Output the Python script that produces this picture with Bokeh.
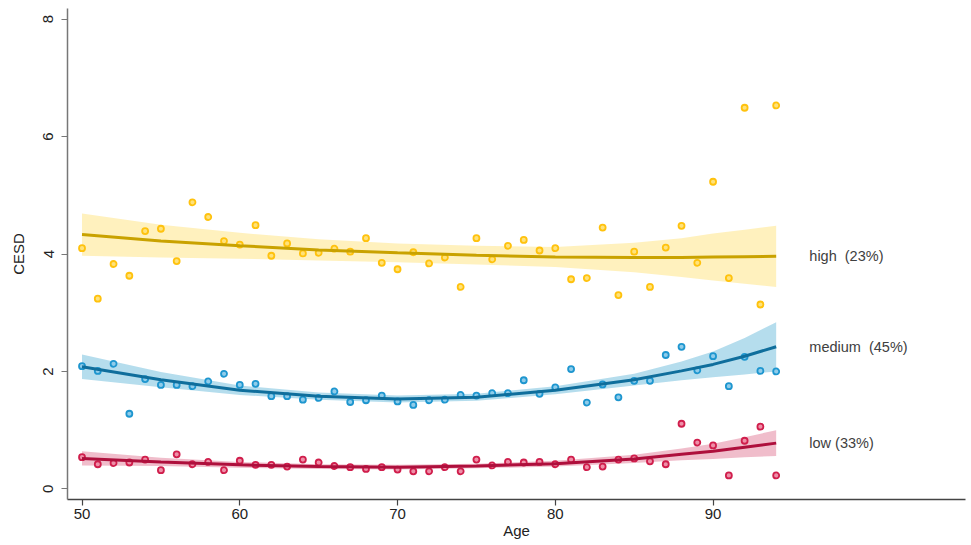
from bokeh.plotting import figure
from bokeh.models import Range1d, FixedTicker, Label
from bokeh.embed import file_html
from bokeh.resources import INLINE

ages = list(range(50, 95))

high = [4.10, 3.24, 3.83, 3.63, 4.39, 4.43, 3.88, 4.88, 4.63, 4.22,
        4.16, 4.49, 3.97, 4.18, 4.01, 4.02, 4.09, 4.04, 4.27, 3.85,
        3.74, 4.03, 3.84, 3.94, 3.44, 4.27, 3.91, 4.14, 4.24, 4.06,
        4.10, 3.57, 3.59, 4.45, 3.30, 4.04, 3.44, 4.11, 4.48, 3.85,
        5.23, 3.59, 6.49, 3.14, 6.53]
medium = [2.09, 2.01, 2.13, 1.28, 1.87, 1.77, 1.77, 1.75, 1.83, 1.96,
          1.77, 1.79, 1.58, 1.58, 1.52, 1.55, 1.66, 1.48, 1.51, 1.59,
          1.49, 1.43, 1.51, 1.52, 1.60, 1.59, 1.63, 1.63, 1.85, 1.62,
          1.73, 2.04, 1.47, 1.78, 1.56, 1.84, 1.84, 2.28, 2.42, 2.02,
          2.26, 1.75, 2.25, 2.01, 2.00]
low = [0.54, 0.42, 0.44, 0.45, 0.50, 0.32, 0.59, 0.42, 0.46, 0.32,
       0.48, 0.41, 0.41, 0.38, 0.50, 0.45, 0.39, 0.37, 0.34, 0.37,
       0.33, 0.30, 0.30, 0.37, 0.30, 0.50, 0.40, 0.46, 0.45, 0.46,
       0.42, 0.50, 0.37, 0.38, 0.50, 0.52, 0.47, 0.42, 1.11, 0.79,
       0.74, 0.23, 0.82, 1.06, 0.23]

fit_ages = [50, 55, 60, 65, 70, 75, 80, 85, 88, 90, 92, 94]
high_fit = [4.33, 4.22, 4.14, 4.07, 4.02, 3.98, 3.95, 3.94, 3.94, 3.95, 3.955, 3.96]
high_hw = [0.36, 0.28, 0.22, 0.18, 0.16, 0.16, 0.17, 0.25, 0.33, 0.40, 0.46, 0.52]
medium_fit = [2.08, 1.86, 1.68, 1.58, 1.53, 1.56, 1.68, 1.86, 2.01, 2.12, 2.26, 2.42]
medium_hw = [0.21, 0.13, 0.08, 0.06, 0.06, 0.06, 0.07, 0.10, 0.16, 0.22, 0.31, 0.42]
low_fit = [0.52, 0.46, 0.41, 0.38, 0.37, 0.39, 0.43, 0.51, 0.59, 0.64, 0.71, 0.78]
low_hw = [0.12, 0.07, 0.05, 0.04, 0.04, 0.04, 0.05, 0.07, 0.10, 0.13, 0.17, 0.22]

group_labels = ["high\u00a0 (23%)", "medium\u00a0 (45%)", "low (33%)"]
x_ticks = [50, 60, 70, 80, 90]
y_ticks = [0, 2, 4, 6, 8]

p = figure(width=971, height=545, output_backend="svg", toolbar_location=None,
           x_range=Range1d(49.08, 106), y_range=Range1d(-0.18, 8.18),
           min_border_left=67, min_border_right=6, min_border_top=8,
           min_border_bottom=46)
p.outline_line_color = None
p.grid.visible = False
p.background_fill_color = "white"
p.border_fill_color = "white"

series = [
    (high, high_fit, high_hw, "#FFC20E", "#FFE27A", "#C9A200", "#FFEFB3", group_labels[0]),
    (medium, medium_fit, medium_hw, "#1E96CF", "#8FCCEA", "#0F6E9C", "#A8D7EA", group_labels[1]),
    (low, low_fit, low_hw, "#D01E4C", "#EE8FA8", "#AE0F3C", "#EDB1C2", group_labels[2]),
]

for pts, fit, hw, pc, pf, lc, bc, lab in series:
    lower = [f - h for f, h in zip(fit, hw)]
    upper = [f + h for f, h in zip(fit, hw)]
    p.varea(x=fit_ages, y1=lower, y2=upper, fill_color=bc, fill_alpha=0.85)
    p.scatter(x=ages, y=pts, marker="circle", size=6, fill_color=pf,
              fill_alpha=1.0, line_color=pc, line_width=1.8)
    p.line(x=fit_ages, y=fit, line_color=lc, line_width=3)
    p.add_layout(Label(x=96.1, y=fit[-1], text=lab, text_font="Liberation Sans",
                       text_font_size="14.5px", text_color="#404040",
                       text_baseline="middle", text_align="left"))

p.xaxis.ticker = FixedTicker(ticks=x_ticks)
p.yaxis.ticker = FixedTicker(ticks=y_ticks)
p.xaxis.axis_label = "Age"
p.yaxis.axis_label = "CESD"
for ax in (p.xaxis[0], p.yaxis[0]):
    ax.axis_label_text_font = "Liberation Sans"
    ax.axis_label_text_font_style = "normal"
    ax.axis_label_text_font_size = "15px"
    ax.axis_label_text_color = "#222222"
    ax.major_label_text_font = "Liberation Sans"
    ax.major_label_text_font_size = "15px"
    ax.major_label_text_color = "#222222"
    ax.minor_tick_line_color = None
    ax.major_tick_out = 6
    ax.major_tick_in = 0
    ax.axis_line_width = 1.5
    ax.major_tick_line_width = 1.2
p.xaxis.axis_line_color = "#444444"
p.xaxis.major_tick_line_color = "#444444"
p.yaxis.axis_line_color = "#777777"
p.yaxis.major_tick_line_color = "#777777"
p.yaxis.major_label_orientation = "vertical"
p.xaxis.major_label_standoff = 3
p.xaxis.axis_label_standoff = 0
p.yaxis.major_label_standoff = 8
p.yaxis.axis_label_standoff = 14

open("out.html", "w").write(file_html(p, INLINE))
